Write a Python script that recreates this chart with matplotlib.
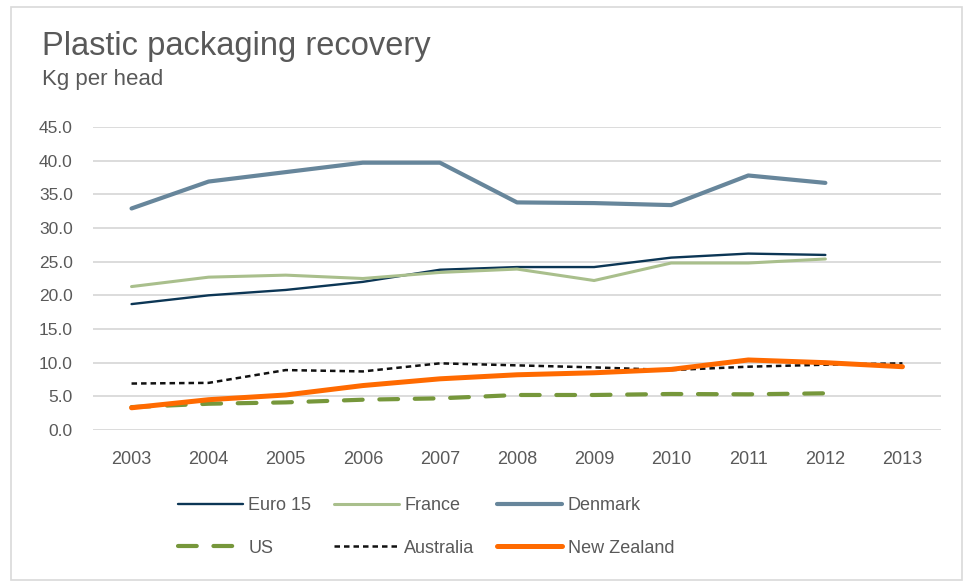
import matplotlib.pyplot as plt
from matplotlib.patches import Rectangle

plt.rcParams['font.family'] = ['Liberation Sans', 'DejaVu Sans']

years = ['2003', '2004', '2005', '2006', '2007', '2008', '2009', '2010', '2011', '2012', '2013']

euro15 = [18.7, 20.0, 20.8, 22.0, 23.8, 24.2, 24.2, 25.6, 26.2, 26.0]
france = [21.3, 22.7, 23.0, 22.5, 23.4, 23.9, 22.2, 24.8, 24.8, 25.4]
denmark = [32.9, 36.9, 38.3, 39.7, 39.7, 33.8, 33.7, 33.4, 37.8, 36.7]
us = [3.4, 3.9, 4.1, 4.5, 4.7, 5.2, 5.2, 5.35, 5.3, 5.45]
australia = [6.9, 7.0, 8.9, 8.7, 9.9, 9.6, 9.3, 8.9, 9.4, 9.7, 9.9]
new_zealand = [3.3, 4.5, 5.2, 6.6, 7.6, 8.2, 8.5, 9.0, 10.4, 10.0, 9.4]

text_grey = '#595959'

fig = plt.figure(figsize=(9.66, 5.81), dpi=100)
ax = fig.add_axes([93 / 966, 1 - 430 / 581, (941 - 93) / 966, (430 - 127) / 581])

x = list(range(len(years)))
l_euro, = ax.plot(x[:len(euro15)], euro15, color='#0c3655', lw=1.7, label='Euro 15',
                  solid_capstyle='round')
l_fr, = ax.plot(x[:len(france)], france, color='#a9bf8c', lw=2.2, label='France',
                solid_capstyle='round')
l_dk, = ax.plot(x[:len(denmark)], denmark, color='#67869b', lw=3.0, label='Denmark',
                solid_capstyle='round')
l_us, = ax.plot(x[:len(us)], us, color='#76973b', lw=3.0, ls=(0, (4.5, 4.0)), label='US',
                dash_capstyle='round')
l_au, = ax.plot(x[:len(australia)], australia, color='#111111', lw=1.8, ls=(0, (2.2, 1.6)),
                label='Australia')
l_nz, = ax.plot(x[:len(new_zealand)], new_zealand, color='#ff6a00', lw=3.6, label='New Zealand',
                solid_capstyle='round')

ax.set_xlim(-0.5, len(years) - 0.5)
ax.set_ylim(0, 45)
ax.set_yticks([i * 5 for i in range(10)])
ax.set_yticklabels([f'{i * 5:.1f}' for i in range(10)])
ax.set_xticks(x)
ax.set_xticklabels(years)
ax.yaxis.grid(True, color='#d9d9d9', lw=1.3)
ax.set_axisbelow(True)
for s in ax.spines.values():
    s.set_visible(False)
ax.tick_params(length=0, labelsize=12.5, labelcolor=text_grey)
ax.tick_params(axis='y', pad=14.5)
ax.tick_params(axis='x', labelsize=13, pad=15)

fig.text(42 / 966, 1 - 47 / 581, 'Plastic packaging recovery', fontsize=23.5, color=text_grey,
         va='center', ha='left')
fig.text(42 / 966, 1 - 80 / 581, 'Kg per head', fontsize=16, color=text_grey,
         va='center', ha='left')

# legend is filled column by column, so order the handles to read row-wise
order = [l_euro, l_us, l_fr, l_au, l_dk, l_nz]
fig.legend(order, [h.get_label() for h in order], ncol=3, loc='center left',
           bbox_to_anchor=(178 / 966, 1 - 527 / 581), borderpad=0, borderaxespad=0,
           frameon=False, fontsize=13, labelcolor=text_grey, handlelength=3.6,
           handletextpad=0.3, columnspacing=1.25, labelspacing=1.4)

fig.patches.append(Rectangle((11 / 966, 1 / 581), 951 / 966, 573 / 581, transform=fig.transFigure,
                             fill=False, edgecolor='#d9d9d9', lw=1.2))

fig.savefig('out.png', dpi=100)
